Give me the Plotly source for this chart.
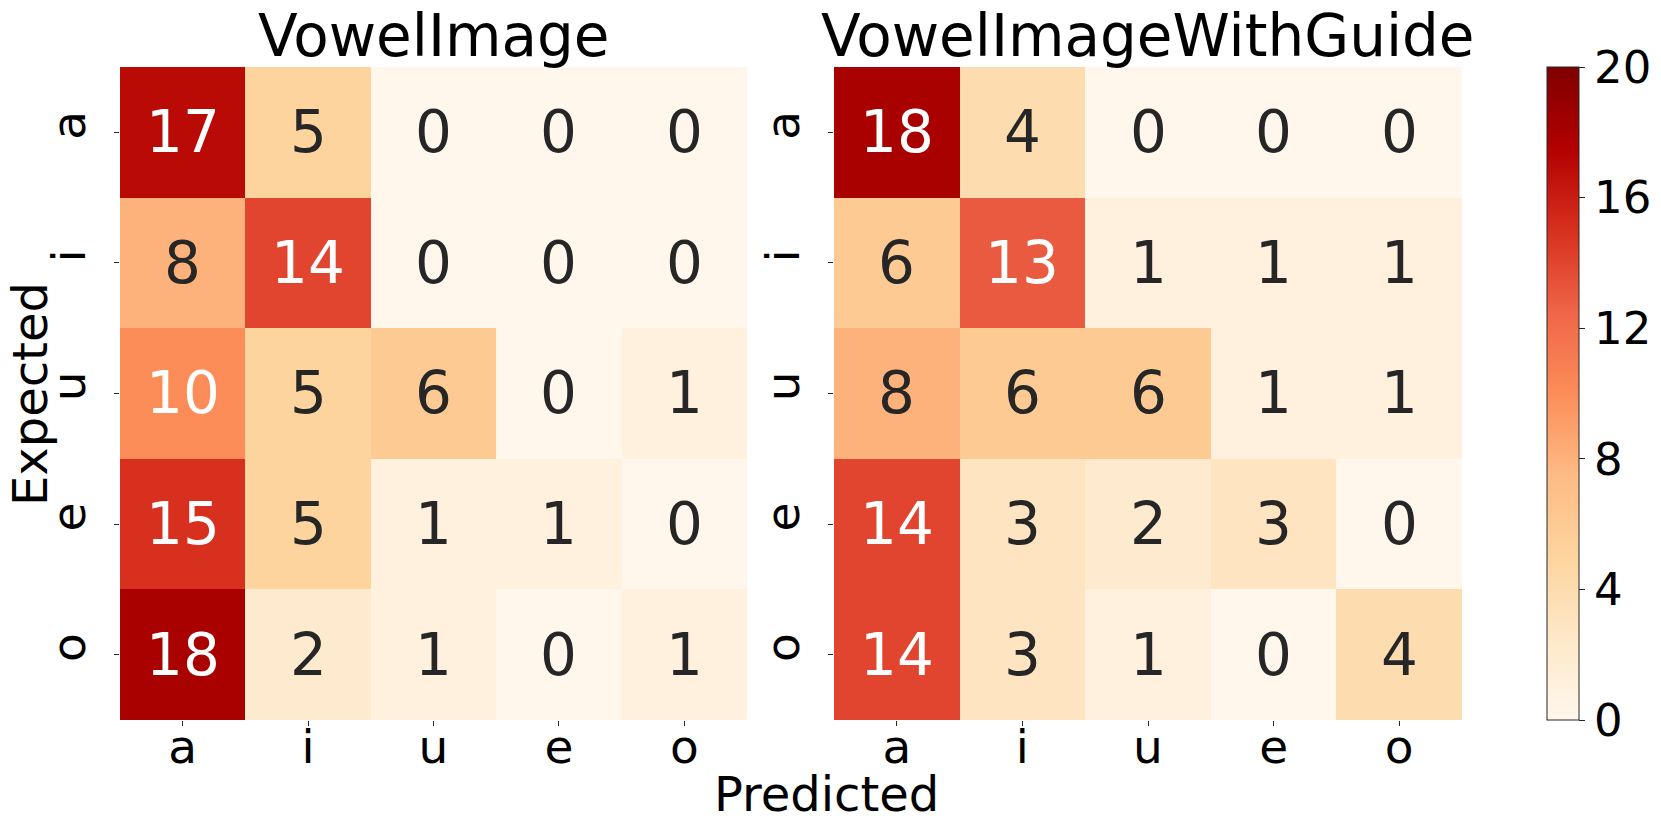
import plotly.graph_objects as go

vowels = ['a', 'i', 'u', 'e', 'o']

# rows = expected, columns = predicted
vowel_image = [
    [17, 5, 0, 0, 0],
    [8, 14, 0, 0, 0],
    [10, 5, 6, 0, 1],
    [15, 5, 1, 1, 0],
    [18, 2, 1, 0, 1],
]
vowel_image_guide = [
    [18, 4, 0, 0, 0],
    [6, 13, 1, 1, 1],
    [8, 6, 6, 1, 1],
    [14, 3, 2, 3, 0],
    [14, 3, 1, 0, 4],
]
titles = ['VowelImage', 'VowelImageWithGuide']
cbar_ticks = [0, 4, 8, 12, 16, 20]

W, H = 1661, 830
FONT = 'DejaVu Sans'

fig = go.Figure()

panels = [
    (vowel_image, 'x', 'y', [120 / W, 747 / W]),
    (vowel_image_guide, 'x2', 'y2', [834 / W, 1462 / W]),
]

for i, (z, xa, ya, dom) in enumerate(panels):
    fig.add_trace(go.Heatmap(
        z=z, x=vowels, y=vowels, xaxis=xa, yaxis=ya,
        colorscale='OrRd', zmin=0, zmax=20,
        showscale=(i == 0),
        colorbar=dict(
            x=1547 / W, xanchor='left', xpad=0, thickness=32,
            y=1 - 720 / H, yanchor='bottom', len=(720 - 67) / H, ypad=0,
            outlinewidth=1, outlinecolor='#262626',
            tickvals=cbar_ticks, ticks='outside', ticklen=6,
            tickcolor='#262626', tickfont=dict(size=45, family=FONT, color='black'),
        ),
        hoverinfo='skip',
    ))
    for r, row in enumerate(z):
        for c, v in enumerate(row):
            fig.add_annotation(
                x=vowels[c], y=vowels[r], xref=xa, yref=ya,
                text=str(v), showarrow=False,
                font=dict(size=58, family=FONT,
                          color='white' if v >= 10 else '#262626'),
            )
    fig.add_annotation(
        x=(dom[0] + dom[1]) / 2, y=1, xref='paper', yref='paper',
        text=titles[i], showarrow=False, xanchor='center', yanchor='top',
        font=dict(size=58, family=FONT, color='black'),
    )

axis_common = dict(
    type='category', showgrid=False, zeroline=False, showline=False,
    ticks='outside', ticklen=5, tickcolor='#262626',
    tickfont=dict(size=47, family=FONT, color='black'),
)

fig.update_layout(
    width=W, height=H,
    margin=dict(l=0, r=0, t=0, b=0),
    paper_bgcolor='white', plot_bgcolor='white',
    xaxis=dict(domain=panels[0][3], anchor='y', ticklabelstandoff=-19, **axis_common),
    xaxis2=dict(domain=panels[1][3], anchor='y2', ticklabelstandoff=-19, **axis_common),
    yaxis=dict(domain=[1 - 720 / H, 1 - 67 / H], anchor='x', ticklabelstandoff=10,
               autorange='reversed', tickangle=-90, **axis_common),
    yaxis2=dict(domain=[1 - 720 / H, 1 - 67 / H], anchor='x2', ticklabelstandoff=10,
                autorange='reversed', tickangle=-90, **axis_common),
    showlegend=False,
)

fig.add_annotation(
    x=826 / W, y=0, xref='paper', yref='paper', yanchor='bottom',
    text='Predicted', showarrow=False, yshift=6,
    font=dict(size=48, family=FONT, color='black'),
)
fig.add_annotation(
    x=30 / W, y=1 - 394 / H, xref='paper', yref='paper', xanchor='center',
    text='Expected', showarrow=False, textangle=-90,
    font=dict(size=48, family=FONT, color='black'),
)

# drop the default 8px body margin so the figure fills the window exactly
fig.write_html("out.html", config={'displayModeBar': False},
               post_script="document.body.style.margin='0';")
